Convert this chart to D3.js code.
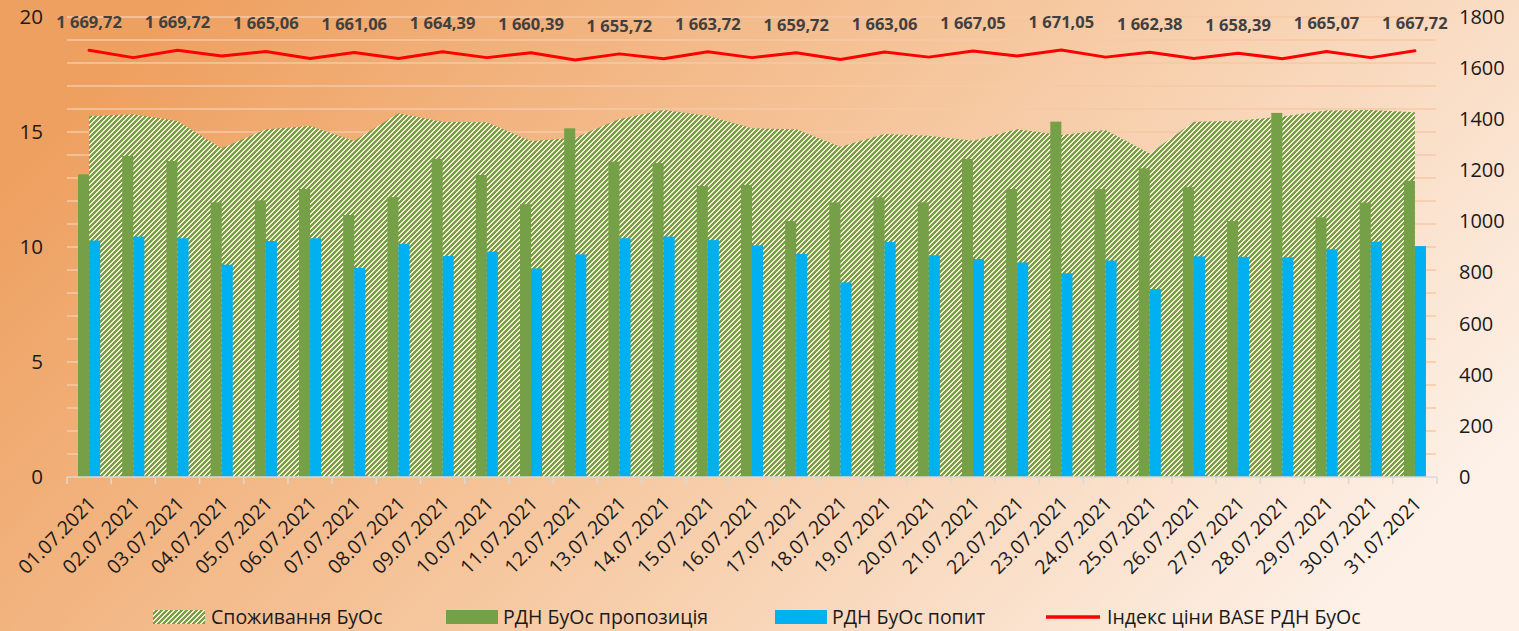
<!DOCTYPE html>
<html><head><meta charset="utf-8">
<script src="https://cdn.jsdelivr.net/npm/d3@7"></script>
<style>html,body{margin:0;padding:0;overflow:hidden;background:#fff} svg{display:block}</style>
</head><body><svg id="chart" width="1519" height="631"></svg>
<script>
const categories = ['01.07.2021','02.07.2021','03.07.2021','04.07.2021','05.07.2021','06.07.2021','07.07.2021','08.07.2021','09.07.2021','10.07.2021','11.07.2021','12.07.2021','13.07.2021','14.07.2021','15.07.2021','16.07.2021','17.07.2021','18.07.2021','19.07.2021','20.07.2021','21.07.2021','22.07.2021','23.07.2021','24.07.2021','25.07.2021','26.07.2021','27.07.2021','28.07.2021','29.07.2021','30.07.2021','31.07.2021'];
const consumption = [15.70,15.77,15.48,14.29,15.12,15.26,14.62,15.81,15.45,15.42,14.61,14.75,15.57,15.96,15.71,15.16,15.12,14.36,14.91,14.84,14.62,15.12,14.87,15.09,14.07,15.45,15.49,15.67,15.93,15.96,15.86];
const supply = [13.16,13.96,13.74,11.94,12.03,12.52,11.39,12.17,13.83,13.13,11.86,15.16,13.71,13.65,12.65,12.70,11.13,11.94,12.16,11.94,13.83,12.52,15.45,12.52,13.42,12.60,11.13,15.83,11.29,11.93,12.88];
const demand = [10.28,10.45,10.38,9.23,10.26,10.38,9.09,10.14,9.61,9.80,9.07,9.68,10.38,10.45,10.30,10.07,9.70,8.46,10.22,9.64,9.48,9.33,8.86,9.41,8.17,9.59,9.57,9.55,9.90,10.23,10.04];
const priceIndex = [1669.72,1641,1669.72,1647,1665.06,1638,1661.06,1638,1664.39,1641,1660.39,1632,1655.72,1637,1663.72,1641,1659.72,1634,1663.06,1643,1667.05,1647,1671.05,1643,1662.38,1638,1658.39,1637,1665.07,1641,1667.72];
const labeledDays = ['01.07.2021','03.07.2021','05.07.2021','07.07.2021','09.07.2021','11.07.2021','13.07.2021','15.07.2021','17.07.2021','19.07.2021','21.07.2021','23.07.2021','25.07.2021','27.07.2021','29.07.2021','31.07.2021'];
const leftTicks = [0,5,10,15,20];
const rightTicks = [0,200,400,600,800,1000,1200,1400,1600,1800];
const gridValues = d3.range(1,21);
const seriesNames = ['Споживання БуОс','РДН БуОс пропозиція','РДН БуОс попит','Індекс ціни BASE РДН БуОс'];

const W = 1519, H = 631;
const m = {left:67, right:1437, top:17, bottom:477};
const FONT = "'Open Sans','Noto Sans','DejaVu Sans',sans-serif";
const COL = {hatch:'#76A047', cream:'#FBEBD6', green:'#76A047', blue:'#00B0F0', red:'#FF0000', grid:'#F7C9A6', text:'#1a1a1a', label:'#404040'};

const svg = d3.select('#chart');
const defs = svg.append('defs');
const bg = defs.append('linearGradient').attr('id','bg').attr('x1',0).attr('y1',0.3).attr('x2',1).attr('y2',0.7);
bg.append('stop').attr('offset',0).attr('stop-color','#EEA060');
bg.append('stop').attr('offset',0.5).attr('stop-color','#F6C8A0');
bg.append('stop').attr('offset',1).attr('stop-color','#FDF1E8');

// pixel-aligned upward diagonal hatch (5x5 tile)
const P = 5;
const pat = defs.append('pattern').attr('id','hatch').attr('patternUnits','userSpaceOnUse')
  .attr('x',0).attr('y',0).attr('width',P).attr('height',P);
pat.append('rect').attr('width',P).attr('height',P).attr('fill',COL.cream);
const cells = [];
for (let yy=0; yy<P; yy++) for (let xx=0; xx<P; xx++) if ((xx+yy)%P < 3) cells.push([xx,yy]);
pat.selectAll('rect.c').data(cells).join('rect').attr('class','c')
  .attr('x',d=>d[0]).attr('y',d=>d[1]).attr('width',1).attr('height',1)
  .attr('fill',COL.hatch).attr('shape-rendering','crispEdges');

svg.append('rect').attr('width',W).attr('height',H).attr('fill','url(#bg)');

const x = d3.scaleBand().domain(categories).range([m.left, m.right]).padding(0);
const step = x.step();
const xs = d3.scaleBand().domain(['supply','demand']).range([step/4, step*3/4]).padding(0);
const yL = d3.scaleLinear().domain([0,20]).range([m.bottom, m.top]);
const yR = d3.scaleLinear().domain([0,1800]).range([m.bottom, m.top]);
const cx = d => x(d) + step/2;

// gridlines
svg.append('g').selectAll('line').data(gridValues).join('line')
  .attr('x1',m.left).attr('x2',m.right-1).attr('y1',d=>yL(d)).attr('y2',d=>yL(d))
  .attr('stroke',COL.grid).attr('stroke-width',1.5);

// area
const area = d3.area().x((d,i)=>cx(categories[i])).y0(yL(0)).y1(d=>yL(d));
svg.append('path').datum(consumption).attr('d',area).attr('fill','url(#hatch)');

// bars
const bars = svg.append('g');
bars.selectAll('rect.s').data(supply).join('rect').attr('class','s')
  .attr('x',(d,i)=>x(categories[i])+xs('supply')).attr('width',xs.bandwidth())
  .attr('y',d=>yL(d)).attr('height',d=>yL(0)-yL(d)).attr('fill',COL.green);
bars.selectAll('rect.d').data(demand).join('rect').attr('class','d')
  .attr('x',(d,i)=>x(categories[i])+xs('demand')).attr('width',xs.bandwidth())
  .attr('y',d=>yL(d)).attr('height',d=>yL(0)-yL(d)).attr('fill',COL.blue);

// price line
const line = d3.line().x((d,i)=>cx(categories[i])).y(d=>yR(d));
svg.append('path').datum(priceIndex).attr('d',line).attr('fill','none')
  .attr('stroke',COL.red).attr('stroke-width',3).attr('stroke-linejoin','round').attr('stroke-linecap','round');

// data labels
const fmt = d3.formatLocale({decimal:',', thousands:'\u00a0', grouping:[3]}).format(',.2f');
svg.append('g').selectAll('text').data(categories.map((c,i)=>({c,v:priceIndex[i]})).filter(d=>labeledDays.includes(d.c)))
  .join('text').attr('x',d=>cx(d.c)).attr('y',d=>yR(d.v)-28).attr('dy','0.35em')
  .attr('text-anchor','middle').attr('font-family',FONT).attr('font-weight','bold').attr('font-size',16.5)
  .attr('fill',COL.label).text(d=>fmt(d.v));

// x axis
const xAxis = d3.axisBottom(x).tickSize(6).tickSizeOuter(0).tickFormat('');
const gx = svg.append('g').attr('transform',`translate(0,${m.bottom})`).call(xAxis);
gx.select('.domain').attr('stroke','#D9D9D9').attr('stroke-width',1.5).attr('d',`M${m.left},0H${m.right}`);
gx.selectAll('.tick').remove();
gx.append('g').selectAll('line').data(d3.range(categories.length+1)).join('line')
  .attr('x1',i=>m.left+i*step).attr('x2',i=>m.left+i*step).attr('y1',0).attr('y2',7)
  .attr('stroke','#D9D9D9').attr('stroke-width',1.5);
svg.append('g').selectAll('text').data(categories).join('text')
  .attr('transform',d=>`translate(${cx(d)+3},${m.bottom+23}) rotate(-45)`)
  .attr('text-anchor','end').attr('dy','0.35em')
  .attr('font-family',FONT).attr('font-size',19.5).attr('fill',COL.text).text(d=>d);

// left axis
const gl = svg.append('g').attr('transform',`translate(${m.left},0)`)
  .call(d3.axisLeft(yL).tickValues(leftTicks).tickSize(0).tickPadding(24).tickFormat(d3.format('d')));
gl.select('.domain').remove();
gl.selectAll('text').attr('font-family',FONT).attr('font-size',20.5).attr('fill',COL.text);

// right axis
const gr = svg.append('g').attr('transform',`translate(${m.right},0)`)
  .call(d3.axisRight(yR).tickValues(rightTicks).tickSize(0).tickPadding(22).tickFormat(d3.format('d')));
gr.select('.domain').remove();
gr.selectAll('text').attr('font-family',FONT).attr('font-size',20).attr('fill',COL.text);

// legend
const legendItems = [
  {name:seriesNames[0], type:'hatch', sx:153, tx:211},
  {name:seriesNames[1], type:'green', sx:446, tx:503},
  {name:seriesNames[2], type:'blue', sx:775, tx:832},
  {name:seriesNames[3], type:'line', sx:1046, tx:1107}
];
const lg = svg.append('g');
const ly = 617;
legendItems.forEach(it=>{
  if (it.type==='line') {
    lg.append('line').attr('x1',it.sx).attr('x2',it.sx+54).attr('y1',ly).attr('y2',ly)
      .attr('stroke',COL.red).attr('stroke-width',3.5);
  } else {
    lg.append('rect').attr('x',it.sx).attr('y',ly-7).attr('width',52).attr('height',14)
      .attr('fill', it.type==='hatch' ? 'url(#hatch)' : (it.type==='green'?COL.green:COL.blue));
  }
  lg.append('text').attr('x',it.tx).attr('y',ly).attr('dy','0.35em')
    .attr('font-family',FONT).attr('font-size',19.5).attr('fill',COL.text).text(it.name);
});
</script></body></html>
